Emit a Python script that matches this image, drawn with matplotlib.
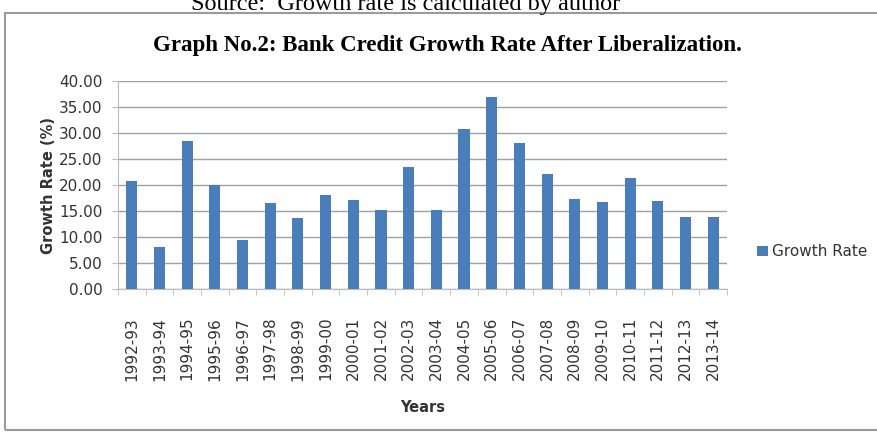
import matplotlib.pyplot as plt
from matplotlib.patches import Rectangle

years = ['1992-93', '1993-94', '1994-95', '1995-96', '1996-97', '1997-98',
         '1998-99', '1999-00', '2000-01', '2001-02', '2002-03', '2003-04',
         '2004-05', '2005-06', '2006-07', '2007-08', '2008-09', '2009-10',
         '2010-11', '2011-12', '2012-13', '2013-14']
growth = [20.8, 8.0, 28.5, 20.0, 9.4, 16.5, 13.7, 18.1, 17.1, 15.1, 23.5, 15.2,
          30.7, 36.9, 28.0, 22.2, 17.3, 16.8, 21.4, 16.9, 13.8, 13.8]
yticks = [0, 5, 10, 15, 20, 25, 30, 35, 40]

if __name__ == "__main__":
    fig = plt.figure(figsize=(8.78, 4.37), dpi=100)
    W, H = 878, 437
    # chart border (right edge runs off the picture)
    fig.patches.append(Rectangle((5 / W, 7 / H), 1.0, (H - 20) / H,
                                 transform=fig.transFigure, fill=False,
                                 edgecolor='#9a9a9a', linewidth=1.5))
    fig.text(406 / W, 1 - 10 / H, 'Source:  Growth rate is calculated by author',
             ha='center', va='baseline', fontsize=17.5, family='Liberation Serif')
    fig.text(447 / W, 1 - 46 / H, 'Graph No.2: Bank Credit Growth Rate After Liberalization.',
             ha='center', va='center', fontsize=16.5, fontweight='bold',
             family='Liberation Serif')

    ax = fig.add_axes([118 / W, 1 - 289 / H, (727 - 118) / W, (289 - 81) / H])
    x = list(range(len(years)))
    ax.bar(x, growth, width=0.4, color='#4a7ebb', label='Growth Rate', zorder=3)
    ax.set_xlim(-0.5, len(years) - 0.5)
    ax.set_ylim(0, 40)
    ax.set_yticks(yticks)
    ax.set_yticklabels(['%.2f' % v for v in yticks], fontsize=11, color='#333333')
    ax.set_xticks(x)
    ax.set_xticklabels(years, rotation=90, fontsize=11, color='#333333')
    ax.tick_params(axis='x', length=0, pad=20)
    ax.set_xticks([i - 0.5 for i in range(len(years) + 1)], minor=True)
    ax.tick_params(axis='x', which='minor', length=4, color='#bbbbbb')
    ax.tick_params(axis='y', length=4, color='#bbbbbb', pad=7)
    ax.grid(axis='y', color='#a0a0a0', linewidth=1, zorder=0)
    for s in ['top', 'right']:
        ax.spines[s].set_visible(False)
    ax.spines['left'].set_color('#bbbbbb')
    ax.spines['bottom'].set_color('#bbbbbb')
    ax.set_ylabel('Growth Rate (%)', fontsize=10.5, fontweight='bold', color='#333333', labelpad=2)
    ax.set_xlabel('Years', fontsize=10.5, fontweight='bold', color='#333333', labelpad=14)
    ax.legend(loc='center left', bbox_to_anchor=(1.027, 0.178), frameon=False,
              fontsize=11, handlelength=0.7, handleheight=0.7, handletextpad=0.3,
              labelcolor='#333333')
    fig.savefig('out.png', dpi=100)
